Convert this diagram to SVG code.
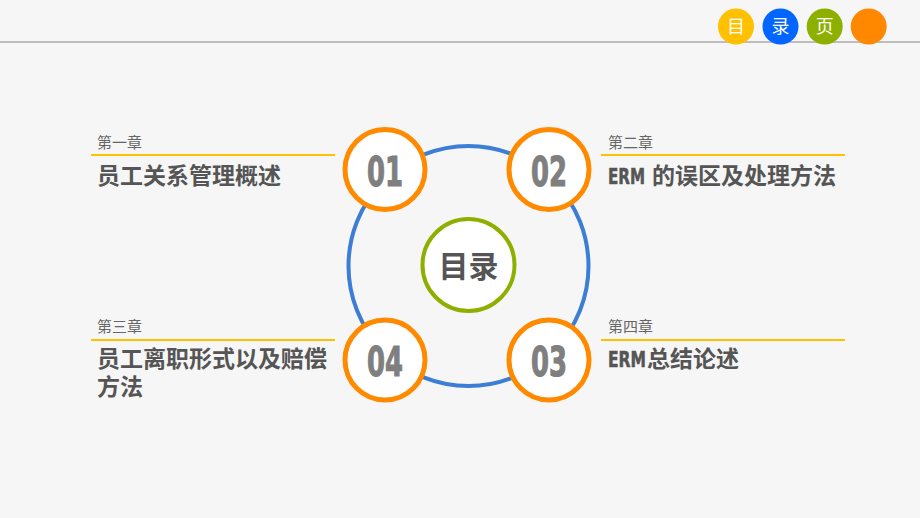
<svg xmlns="http://www.w3.org/2000/svg" width="920" height="518" viewBox="0 0 920 518">
<style>
.cjk{font-family:"Noto Sans CJK SC","Noto Sans",sans-serif}
.chap{font-size:15px;fill:#666}
.title{font-size:23px;font-weight:bold;fill:#555}
.num{font-family:"DejaVu Sans",sans-serif;font-weight:bold;font-size:41px;fill:#7f7f7f;stroke:#7f7f7f;stroke-width:1.2}
.erm{font-family:"DejaVu Sans",sans-serif;font-weight:bold;font-size:22px;fill:#555;stroke:#555;stroke-width:0.6}
.ncirc{fill:#fff;stroke:#ff8a00;stroke-width:5}
.rule{stroke:#ffc000;stroke-width:2}
.tab{font-size:18px;fill:#fff}
</style>
<rect width="920" height="518" fill="#f6f6f6"/>
<line x1="0" y1="42" x2="920" y2="42" stroke="#bdbdbd" stroke-width="2"/>
<g id="tabs">
<g id="tab1"><circle cx="736" cy="26.5" r="18" fill="#ffc000"/><text class="cjk tab" x="736" y="33" text-anchor="middle">目</text></g>
<g id="tab2"><circle cx="780.5" cy="26.5" r="18" fill="#0066ff"/><text class="cjk tab" x="780.5" y="33" text-anchor="middle">录</text></g>
<g id="tab3"><circle cx="824.7" cy="26.5" r="18" fill="#8db000"/><text class="cjk tab" x="824.7" y="33" text-anchor="middle">页</text></g>
<g id="tab4"><circle cx="868.7" cy="26.5" r="18" fill="#ff8800"/></g>
</g>
<g id="connectors">
<circle cx="468.5" cy="266" r="120" fill="none" stroke="#3c7ed6" stroke-width="4"/>
</g>
<g id="center">
<circle cx="468.5" cy="265" r="46" fill="#fff" stroke="#8db000" stroke-width="4"/>
<text class="cjk" x="468.5" y="277" text-anchor="middle" font-size="30" font-weight="bold" fill="#555">目录</text>
</g>
<g id="n01">
<circle class="ncirc" cx="385" cy="169.5" r="40"/>
<text class="num" x="367" y="186" textLength="36" lengthAdjust="spacingAndGlyphs">01</text>
</g>
<g id="n02">
<circle class="ncirc" cx="549" cy="169.5" r="40"/>
<text class="num" x="531" y="186" textLength="36" lengthAdjust="spacingAndGlyphs">02</text>
</g>
<g id="n04">
<circle class="ncirc" cx="385" cy="360" r="40"/>
<text class="num" x="367" y="376" textLength="36" lengthAdjust="spacingAndGlyphs">04</text>
</g>
<g id="n03">
<circle class="ncirc" cx="549" cy="360" r="40"/>
<text class="num" x="531" y="376" textLength="36" lengthAdjust="spacingAndGlyphs">03</text>
</g>
<g id="ch1">
<text class="cjk chap" x="97" y="148">第一章</text>
<line class="rule" x1="91" y1="155" x2="335" y2="155"/>
<text class="cjk title" x="97" y="184">员工关系管理概述</text>
</g>
<g id="ch2">
<text class="cjk chap" x="608" y="148">第二章</text>
<line class="rule" x1="601" y1="155" x2="845" y2="155"/>
<text x="608" y="184"><tspan class="erm" textLength="37" lengthAdjust="spacingAndGlyphs">ERM</tspan><tspan class="cjk title" x="652">的误区及处理方法</tspan></text>
</g>
<g id="ch3">
<text class="cjk chap" x="97" y="332">第三章</text>
<line class="rule" x1="91" y1="340" x2="335" y2="340"/>
<text class="cjk title" x="97" y="367">员工离职形式以及赔偿<tspan x="97" dy="28">方法</tspan></text>
</g>
<g id="ch4">
<text class="cjk chap" x="608" y="332">第四章</text>
<line class="rule" x1="601" y1="340" x2="845" y2="340"/>
<text x="608" y="367"><tspan class="erm" textLength="38" lengthAdjust="spacingAndGlyphs">ERM</tspan><tspan class="cjk title" x="647">总结论述</tspan></text>
</g>
</svg>
